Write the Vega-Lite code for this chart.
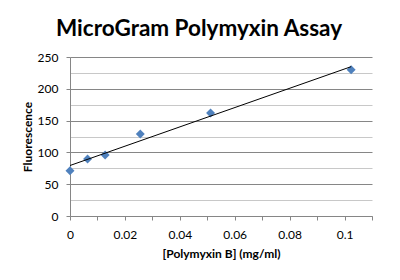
{
  "$schema": "https://vega.github.io/schema/vega-lite/v6.json",
  "autosize": {"type": "none"},
  "width": 302,
  "height": 159,
  "padding": {"left": 70, "top": 57, "right": 28, "bottom": 64},
  "background": "white",
  "config": {
    "font": "Lato",
    "view": {"stroke": null}
  },
  "title": {
    "text": "MicroGram Polymyxin Assay",
    "font": "Lato",
    "fontSize": 22.5,
    "fontWeight": "bold",
    "color": "black",
    "anchor": "middle",
    "frame": "group",
    "dx": -22,
    "offset": 11
  },
  "data": {
    "values": [
      {"conc": 0, "fluor": 71},
      {"conc": 0.0064, "fluor": 89.5},
      {"conc": 0.0128, "fluor": 96},
      {"conc": 0.0256, "fluor": 129},
      {"conc": 0.0512, "fluor": 162},
      {"conc": 0.1024, "fluor": 230}
    ]
  },
  "encoding": {
    "x": {
      "field": "conc", "type": "quantitative",
      "scale": {"domain": [0, 0.11], "nice": false, "zero": true},
      "axis": {
        "title": "[Polymyxin B] (mg/ml)",
        "values": [0, 0.01, 0.02, 0.03, 0.04, 0.05, 0.06, 0.07, 0.08, 0.09, 0.1, 0.11],
        "labelExpr": "round(datum.value*100) % 2 == 0 ? format(datum.value, '~g') : ''",
        "grid": false,
        "domainColor": "#868686",
        "tickColor": "#868686",
        "tickSize": 4,
        "labelFont": "Lato",
        "labelFontSize": 12,
        "labelColor": "black",
        "labelPadding": 9,
        "labelFlush": false,
        "labelOverlap": false,
        "titleFont": "Lato",
        "titleFontSize": 12,
        "titleFontWeight": "bold",
        "titleColor": "black",
        "titlePadding": 8
      }
    },
    "y": {
      "field": "fluor", "type": "quantitative",
      "scale": {"domain": [0, 250], "nice": false},
      "axis": {
        "title": "Fluorescence",
        "values": [0, 25, 50, 75, 100, 125, 150, 175, 200, 225, 250],
        "labelExpr": "datum.value % 50 == 0 ? datum.label : ''",
        "grid": true,
        "gridColor": {"condition": {"test": "datum.value % 50 == 0", "value": "#868686"}, "value": "#C8C8C8"},
        "tickOpacity": {"condition": {"test": "datum.value % 50 == 0", "value": 1}, "value": 0},
        "domainColor": "#868686",
        "tickColor": "#868686",
        "tickSize": 4,
        "labelFont": "Lato",
        "labelFontSize": 12,
        "labelColor": "black",
        "labelPadding": 8,
        "labelFlush": false,
        "labelOverlap": false,
        "titleFont": "Lato",
        "titleFontSize": 12,
        "titleFontWeight": "bold",
        "titleColor": "black",
        "titlePadding": 3
      }
    }
  },
  "layer": [
    {
      "mark": {"type": "point", "shape": "diamond", "filled": true, "size": 80, "color": "#4F81BD", "opacity": 1}
    },
    {
      "transform": [{"regression": "fluor", "on": "conc"}],
      "mark": {"type": "line", "color": "black", "strokeWidth": 1}
    }
  ]
}
